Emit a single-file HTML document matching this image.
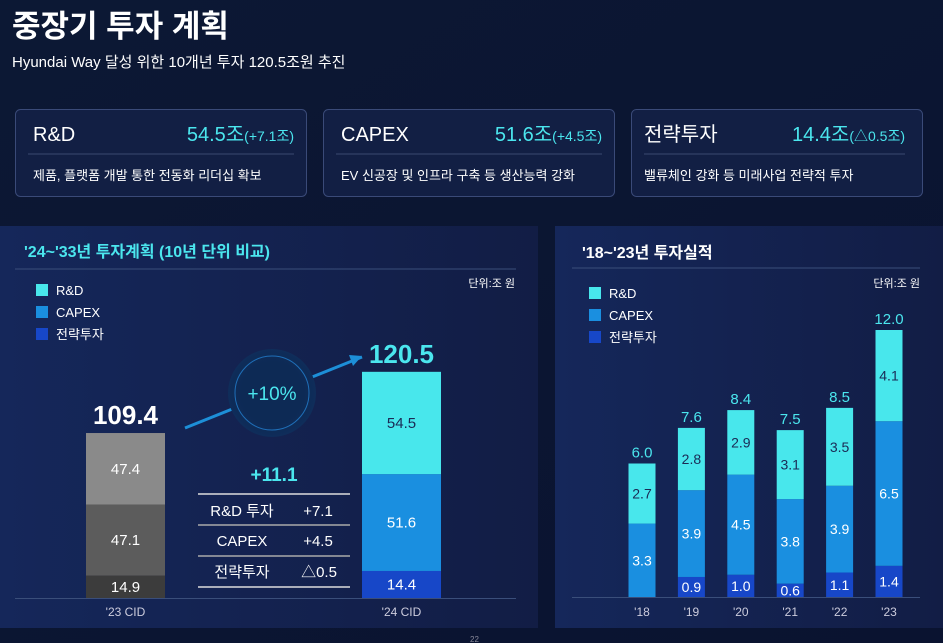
<!DOCTYPE html>
<html><head><meta charset="utf-8"><style>
body{margin:0;width:943px;height:643px;overflow:hidden;background:#0b1531;font-family:"Liberation Sans","Noto Sans CJK KR",sans-serif;}
svg{display:block}
text{font-family:"Liberation Sans","Noto Sans CJK KR",sans-serif}
</style></head><body>
<svg width="943" height="643" viewBox="0 0 943 643">
<defs>
<linearGradient id="bg" x1="0" y1="0" x2="1" y2="1"><stop offset="0" stop-color="#0c1834"/><stop offset="1" stop-color="#0a1330"/></linearGradient>
<linearGradient id="pl" x1="0" y1="0" x2="1" y2="0"><stop offset="0" stop-color="#15275a"/><stop offset="1" stop-color="#121d45"/></linearGradient>
<radialGradient id="circ"><stop offset="0.7" stop-color="#0d2a55"/><stop offset="1" stop-color="#0f2d5a"/></radialGradient>
</defs>
<rect width="943" height="643" fill="url(#bg)"/>
<text x="12" y="37" font-size="31" font-weight="bold" fill="#fff">중장기 투자 계획</text>
<text x="12" y="67" font-size="15" fill="#fff">Hyundai Way 달성 위한 10개년 투자 120.5조원 추진</text>

<g>
<rect x="15.5" y="109.5" width="291" height="87" rx="5" fill="#121f44" stroke="#3a4a78"/>
<text x="33" y="141" font-size="20" fill="#fff">R&amp;D</text>
<text x="294" y="141" font-size="20" fill="#4be6ee" text-anchor="end">54.5조<tspan font-size="14">(+7.1조)</tspan></text>
<line x1="28" y1="154" x2="294" y2="154" stroke="#3a4a70"/>
<text x="33" y="180" font-size="13" fill="#fff">제품, 플랫폼 개발 통한 전동화 리더십 확보</text>
</g>
<g>
<rect x="323.5" y="109.5" width="291" height="87" rx="5" fill="#121f44" stroke="#3a4a78"/>
<text x="341" y="141" font-size="20" fill="#fff">CAPEX</text>
<text x="602" y="141" font-size="20" fill="#4be6ee" text-anchor="end">51.6조<tspan font-size="14">(+4.5조)</tspan></text>
<line x1="336" y1="154" x2="602" y2="154" stroke="#3a4a70"/>
<text x="341" y="180" font-size="13" fill="#fff">EV 신공장 및 인프라 구축 등 생산능력 강화</text>
</g>
<g>
<rect x="631.5" y="109.5" width="291" height="87" rx="5" fill="#121f44" stroke="#3a4a78"/>
<text x="644" y="141" font-size="20" fill="#fff">전략투자</text>
<text x="905" y="141" font-size="20" fill="#4be6ee" text-anchor="end">14.4조<tspan font-size="14">(△0.5조)</tspan></text>
<line x1="644" y1="154" x2="905" y2="154" stroke="#3a4a70"/>
<text x="644" y="180" font-size="13" fill="#fff">밸류체인 강화 등 미래사업 전략적 투자</text>
</g>

<rect x="0" y="226" width="538" height="402" fill="url(#pl)"/>
<text x="24" y="257" font-size="16" font-weight="bold" fill="#4be6ee">'24~'33년 투자계획 (10년 단위 비교)</text>
<line x1="15" y1="269" x2="516" y2="269" stroke="#3a4e7a"/>
<text x="515" y="287" font-size="11" fill="#fff" text-anchor="end">단위:조 원</text>
<g id="leg1"></g>
<line x1="15" y1="598.5" x2="516" y2="598.5" stroke="#3a4e7a"/>
<g id="plan"></g>
<line x1="185" y1="428" x2="362" y2="357" stroke="#1d8fd8" stroke-width="3"/>
<polygon points="362,356 349,355 353,366" fill="#1d8fd8"/>
<circle cx="272" cy="393" r="44" fill="url(#circ)"/>
<circle cx="272" cy="393" r="37" fill="none" stroke="#1f6fb8" stroke-width="1"/>
<text x="272" y="400" font-size="19" fill="#4be6ee" text-anchor="middle">+10%</text>
<text x="274" y="481" font-size="19" font-weight="bold" fill="#4be6ee" text-anchor="middle">+11.1</text>
<g font-size="15" fill="#fff" text-anchor="middle">
<line x1="198" y1="494" x2="350" y2="494" stroke="#ddd" stroke-width="1.5"/>
<line x1="198" y1="525" x2="350" y2="525" stroke="#aaa" stroke-width="1.5"/>
<line x1="198" y1="556" x2="350" y2="556" stroke="#aaa" stroke-width="1.5"/>
<line x1="198" y1="587" x2="350" y2="587" stroke="#ddd" stroke-width="1.5"/>
<text x="242" y="516">R&amp;D 투자</text><text x="318" y="516">+7.1</text>
<text x="242" y="546">CAPEX</text><text x="318" y="546">+4.5</text>
<text x="242" y="577">전략투자</text><text x="319" y="577">△0.5</text>
</g>

<rect x="555" y="226" width="388" height="402" fill="url(#pl)"/>
<text x="582" y="258" font-size="16" font-weight="bold" fill="#fff">'18~'23년 투자실적</text>
<line x1="572" y1="268" x2="920" y2="268" stroke="#3a4e7a"/>
<text x="920" y="287" font-size="11" fill="#fff" text-anchor="end">단위:조 원</text>
<g id="leg2"></g>
<line x1="572" y1="597.5" x2="920" y2="597.5" stroke="#3a4e7a"/>
<g id="actual"></g>
<text x="470" y="642" font-size="8" fill="#889">22</text>
</svg>
<script>
const NS="http://www.w3.org/2000/svg";
const planCats=["'23 CID","'24 CID"];
const planRnd=[47.4,54.5];
const planCapex=[47.1,51.6];
const planStrat=[14.9,14.4];
const planTotals=["109.4","120.5"];
const years=["'18","'19","'20","'21","'22","'23"];
const actRnd=[2.7,2.8,2.9,3.1,3.5,4.1];
const actCapex=[3.3,3.9,4.5,3.8,3.9,6.5];
const actStrat=[0,0.9,1.0,0.6,1.1,1.4];
const actTotals=["6.0","7.6","8.4","7.5","8.5","12.0"];
const legendLabels=["R&D","CAPEX","전략투자"];

function mk(tag,attrs,parent,txt){const e=document.createElementNS(NS,tag);for(const k in attrs)e.setAttribute(k,attrs[k]);if(txt!==undefined)e.textContent=txt;parent.appendChild(e);return e;}
const colors=["#48e7ec","#1a8fe0","#1747c8"];
const grey=["#8a8a8a","#5c5c5c","#3c3c3c"];

function legend(g,x,y0){legendLabels.forEach((l,i)=>{
 const r=mk("rect",{x:x,y:y0+i*22-6,width:12,height:12,fill:colors[i]},g);
 
 
 const t=mk("text",{x:x+20,y:y0+i*22+5,"font-size":13,fill:"#fff"},g,l);
 
 
});}
legend(document.getElementById("leg1"),36,290);
legend(document.getElementById("leg2"),589,293);

const pg=document.getElementById("plan");
const planBase=598, planX=[86,362], planW=79;
const planScale=[1.508,1.877];
function py(v,i){return planBase-v*planScale[i];}
planCats.forEach((c,i)=>{
 const segs=[planStrat[i],planCapex[i],planRnd[i]];
 const cols=i==0?[grey[2],grey[1],grey[0]]:[colors[2],colors[1],colors[0]];
 const tcol=i==0?["#fff","#fff","#fff"]:["#fff","#fff","#1a2a55"];
 let acc=0;
 segs.forEach((v,k)=>{
  const y1=py(acc,i), y2=py(acc+v,i);
  const r=mk("rect",{x:planX[i],y:y2,width:planW,height:y1-y2,fill:cols[k]},pg);
  
  
  const t=mk("text",{x:planX[i]+planW/2,y:(y1+y2)/2+5,"font-size":15,fill:tcol[k],"text-anchor":"middle"},pg,v.toFixed(1));
  
  
  acc+=v;
 });
 const tt=mk("text",{x:planX[i]+planW/2,y:py(acc,i)-9,"font-size":i==0?26:26,"font-weight":"bold",fill:i==0?"#fff":"#4be6ee","text-anchor":"middle"},pg,planTotals[i]);
 
 
 const xl=mk("text",{x:planX[i]+planW/2,y:616,"font-size":12,fill:"#ccd","text-anchor":"middle"},pg,c);
 
 
});

const ag=document.getElementById("actual");
const aBase=597, aScale=22.25, aW=27;
function ax(i){return 642+i*49.4;}
function ay(v){return aBase-v*aScale;}
years.forEach((yr,i)=>{
 const segs=[actStrat[i],actCapex[i],actRnd[i]];
 const tcol=["#fff","#fff","#1a2a55"];
 let acc=0;
 segs.forEach((v,k)=>{
  if(v<=0)return;
  const y1=ay(acc),y2=ay(acc+v);
  const r=mk("rect",{x:ax(i)-aW/2,y:y2,width:aW,height:y1-y2,fill:colors[2-k]},ag);
  
  
  const t=mk("text",{x:ax(i),y:(y1+y2)/2+5,"font-size":14,fill:tcol[k],"text-anchor":"middle"},ag,v.toFixed(1));
  
  
  acc+=v;
 });
 const tt=mk("text",{x:ax(i),y:ay(acc)-6,"font-size":15,fill:"#4be6ee","text-anchor":"middle"},ag,actTotals[i]);
 
 
 const xl=mk("text",{x:ax(i),y:616,"font-size":12,fill:"#ccd","text-anchor":"middle"},ag,yr);
 
 
});
</script>
</body></html>
